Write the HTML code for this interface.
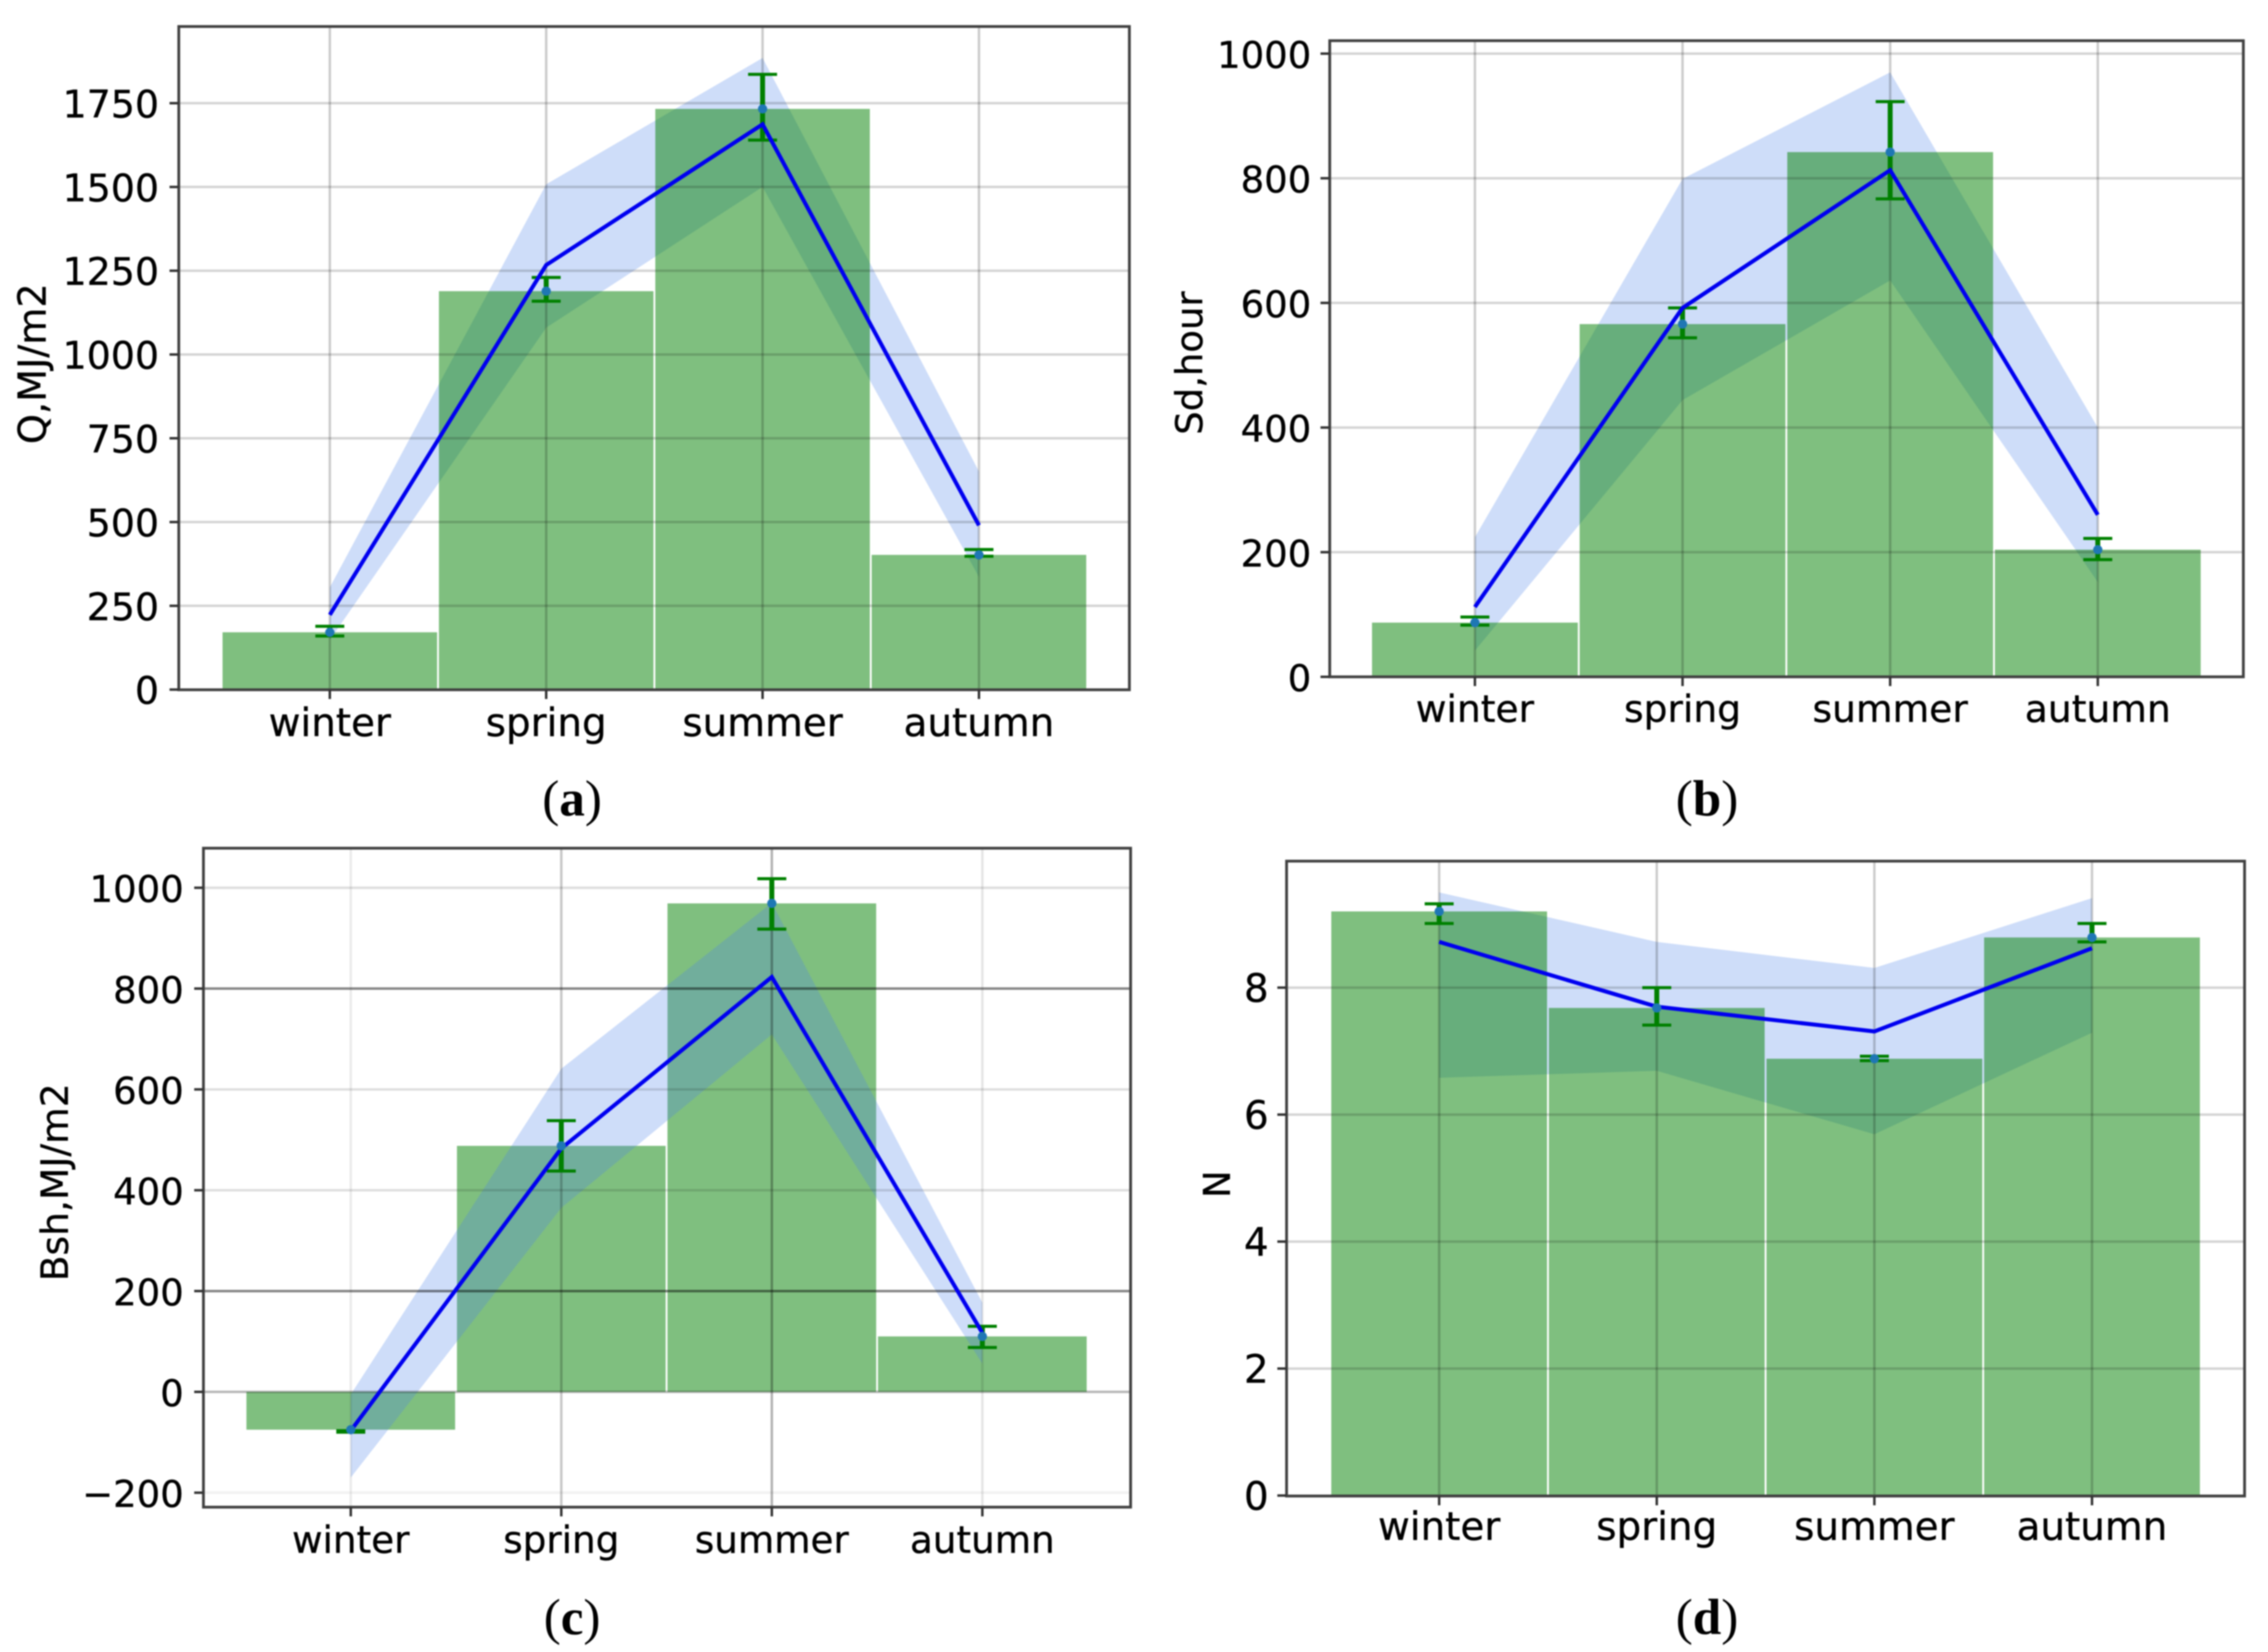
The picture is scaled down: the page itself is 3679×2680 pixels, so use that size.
<!DOCTYPE html>
<html lang="en">
<head>
<meta charset="utf-8">
<title>Seasonal radiation charts</title>
<style>
html,body{margin:0;padding:0;background:#fff;width:3679px;height:2680px;overflow:hidden}
svg{display:block;position:absolute;left:0;top:0;filter:blur(1px)}
text{font-family:"DejaVu Sans","Liberation Sans",sans-serif;fill:#000;stroke:#000;stroke-width:0.5px}
.cap{font-family:"Liberation Serif",serif;font-size:83px;stroke:none}
</style>
</head>
<body>
<svg id="fig" xmlns="http://www.w3.org/2000/svg" width="3679" height="2680" viewBox="0 0 3679 2680">
<text class="cap" x="928" y="1323" text-anchor="middle">(<tspan font-weight="bold">a</tspan>)</text>
<text class="cap" x="2769" y="1323" text-anchor="middle">(<tspan font-weight="bold">b</tspan>)</text>
<text class="cap" x="928" y="2651" text-anchor="middle">(<tspan font-weight="bold">c</tspan>)</text>
<text class="cap" x="2769" y="2651" text-anchor="middle">(<tspan font-weight="bold">d</tspan>)</text>
</svg>
<script>
const categories = ['winter', 'spring', 'summer', 'autumn'];

const qTicks = [0, 250, 500, 750, 1000, 1250, 1500, 1750];
const qBars = [171, 1189, 1733, 402];
const qLine = [223, 1267, 1687, 490];
const qUpper = [305, 1508, 1885, 651];
const qLower = [148, 1080, 1500, 336];
const qErrLow = [160, 1159, 1640, 398];
const qErrHigh = [189, 1230, 1836, 418];

const sdTicks = [0, 200, 400, 600, 800, 1000];
const sdBars = [87, 566, 842, 204];
const sdLine = [112, 592, 813, 260];
const sdUpper = [224, 799, 970, 400];
const sdLower = [42, 444, 636, 152];
const sdErrLow = [83, 544, 767, 188];
const sdErrHigh = [96, 592, 923, 222];

const bshTicks = [-200, 0, 200, 400, 600, 800, 1000];
const bshBars = [-75, 488, 969, 110];
const bshLine = [-77, 483, 823, 117];
const bshUpper = [-5, 641, 970, 177];
const bshLower = [-170, 365, 709, 56];
const bshErrLow = [-80, 438, 918, 88];
const bshErrHigh = [-77, 538, 1018, 130];

const nTicks = [0, 2, 4, 6, 8];
const nBars = [9.2, 7.68, 6.88, 8.79];
const nLine = [8.72, 7.7, 7.31, 8.62];
const nUpper = [9.5, 8.72, 8.31, 9.41];
const nLower = [6.58, 6.69, 5.69, 7.29];
const nErrLow = [9.01, 7.41, 6.85, 8.72];
const nErrHigh = [9.32, 8.0, 6.92, 9.01];

const SVG_NS = 'http://www.w3.org/2000/svg';
const root = document.getElementById('fig');

function mk(tag, attrs, parent) {
  const el = document.createElementNS(SVG_NS, tag);
  for (const k in attrs) el.setAttribute(k, attrs[k]);
  parent.appendChild(el);
  return el;
}

function drawPanel(p, d) {
  const g = mk('g', {}, root);
  
  

  const xAt = i => p.xFirst + p.xStep * i;
  const yAt = v => p.yZero - v * p.yScale;

  function drawBars() {
    categories.forEach(function (c, i) {
      const top = Math.min(yAt(0), yAt(d.bars[i]));
      const h = Math.abs(yAt(0) - yAt(d.bars[i]));
      const bar = mk('rect', {
        x: xAt(i) - p.xStep / 2 + 1.5, y: top, width: p.xStep - 3, height: h,
        fill: '#008000', 'fill-opacity': 0.5
      }, g);
      
      
    });
  }

  function drawBand() {
    const pts = [];
    d.upper.forEach(function (v, i) { pts.push(xAt(i) + ',' + yAt(v)); });
    for (let i = d.lower.length - 1; i >= 0; i--) pts.push(xAt(i) + ',' + yAt(d.lower[i]));
    const band = mk('polygon', {
      points: pts.join(' '), fill: '#4a80e8', 'fill-opacity': 0.27
    }, g);
    
    
  }

  if (p.bandOnTop) { drawBars(); drawBand(); } else { drawBand(); drawBars(); }

  // grid
  d.ticks.forEach(function (t) {
    const line = mk('line', {
      x1: p.l, x2: p.r, y1: yAt(t), y2: yAt(t),
      stroke: '#000', 'stroke-opacity': p.gridH ? p.gridH(t) : 0.17, 'stroke-width': 4
    }, g);
    
    
  });
  categories.forEach(function (c, i) {
    const line = mk('line', {
      x1: xAt(i), x2: xAt(i), y1: p.t, y2: p.b,
      stroke: '#000', 'stroke-opacity': p.gridV ? p.gridV[i] : 0.2, 'stroke-width': 4
    }, g);
    
    
  });

  // error bars
  categories.forEach(function (c, i) {
    const x = xAt(i);
    const stem = mk('line', {
      x1: x, x2: x, y1: yAt(d.errLow[i]), y2: yAt(d.errHigh[i]),
      stroke: '#008000', 'stroke-width': 8
    }, g);
    
    
    [d.errLow[i], d.errHigh[i]].forEach(function (v) {
      const cap = mk('line', {
        x1: x - 23.5, x2: x + 23.5, y1: yAt(v), y2: yAt(v),
        stroke: '#008000', 'stroke-width': 5
      }, g);
      
      
    });
  });

  // mean line
  const linePts = d.line.map(function (v, i) { return xAt(i) + ',' + yAt(v); }).join(' ');
  const meanLine = mk('polyline', {
    points: linePts, fill: 'none', stroke: '#0000f0', 'stroke-width': 6.5, 'stroke-linejoin': 'miter'
  }, g);
  
  

  // points
  categories.forEach(function (c, i) {
    const dot = mk('circle', { cx: xAt(i), cy: yAt(d.bars[i]), r: 7.5, fill: '#1f77b4' }, g);
    
    
  });

  // frame
  const frame = mk('rect', {
    x: p.l, y: p.t, width: p.r - p.l, height: p.b - p.t,
    fill: 'none', stroke: '#404040', 'stroke-width': 4.5
  }, g);
  
  

  // y ticks and labels
  d.ticks.forEach(function (t) {
    const tick = mk('line', {
      x1: p.l - 15, x2: p.l, y1: yAt(t), y2: yAt(t), stroke: '#333', 'stroke-width': 4
    }, g);
    
    
    const lab = mk('text', {
      x: p.yLabelRight, y: yAt(t) + 23, 'text-anchor': 'end', 'font-size': p.yFont
    }, g);
    lab.textContent = String(t).replace('-', '\u2212');
    
    
  });

  // x ticks and labels
  categories.forEach(function (c, i) {
    const tick = mk('line', {
      x1: xAt(i), x2: xAt(i), y1: p.b, y2: p.b + 15, stroke: '#333', 'stroke-width': 4
    }, g);
    
    
    const lab = mk('text', {
      x: xAt(i), y: p.xLabelBase, 'text-anchor': 'middle', 'font-size': p.font
    }, g);
    lab.textContent = c;
    
    
  });

  // y axis title
  const title = mk('text', {
    x: 0, y: 0, 'text-anchor': 'middle', 'font-size': p.titleFont,
    transform: 'translate(' + p.titleX + ',' + p.titleY + ') rotate(-90)'
  }, g);
  title.textContent = p.title;
  
  
}

drawPanel(
  { id: 'a', l: 290, r: 1832, t: 43, b: 1119, xFirst: 535, xStep: 351, yZero: 1118.7, yScale: 0.5436,
    font: 63, yFont: 61.5, yLabelRight: 258, xLabelBase: 1194, title: 'Q,MJ/m2', titleFont: 62, titleX: 74, titleY: 590 },
  { ticks: qTicks, bars: qBars, line: qLine, upper: qUpper, lower: qLower, errLow: qErrLow, errHigh: qErrHigh }
);

drawPanel(
  { id: 'b', l: 2157, r: 3639, t: 66, b: 1098, xFirst: 2392.5, xStep: 336.8, yZero: 1098, yScale: 1.011,
    font: 61, yFont: 60, yLabelRight: 2127, xLabelBase: 1171, title: 'Sd,hour', titleFont: 60, titleX: 1950, titleY: 589 },
  { ticks: sdTicks, bars: sdBars, line: sdLine, upper: sdUpper, lower: sdLower, errLow: sdErrLow, errHigh: sdErrHigh }
);

drawPanel(
  { id: 'c', l: 330, r: 1834, t: 1376, b: 2445, xFirst: 569, xStep: 341.5, yZero: 2258, yScale: 0.8178,
    font: 60.5, yFont: 60, yLabelRight: 298, xLabelBase: 2519, title: 'Bsh,MJ/m2', titleFont: 61, titleX: 110, titleY: 1918,
    bandOnTop: true,
    gridH: function (t) { return (t === 200 || t === 800) ? 0.48 : (t === -200 ? 0.05 : (t === 0 ? 0.28 : 0.13)); },
    gridV: [0.08, 0.22, 0.3, 0.1] },
  { ticks: bshTicks, bars: bshBars, line: bshLine, upper: bshUpper, lower: bshLower, errLow: bshErrLow, errHigh: bshErrHigh }
);

drawPanel(
  { id: 'd', l: 2087, r: 3641, t: 1397, b: 2427, xFirst: 2334.5, xStep: 353, yZero: 2426.2, yScale: 103,
    font: 63, yFont: 63, yLabelRight: 2058, xLabelBase: 2498, title: 'N', titleFont: 60, titleX: 1995, titleY: 1921 },
  { ticks: nTicks, bars: nBars, line: nLine, upper: nUpper, lower: nLower, errLow: nErrLow, errHigh: nErrHigh }
);
</script>
</body>
</html>
